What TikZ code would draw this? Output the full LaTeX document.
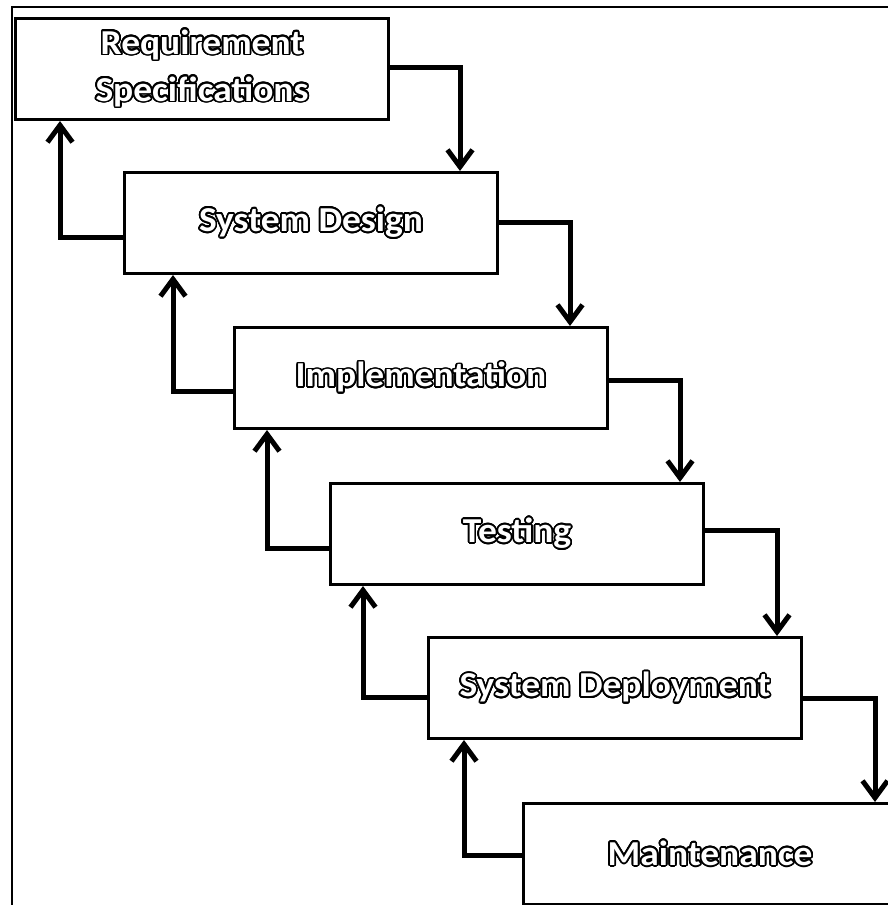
\documentclass[tikz,border=0pt]{standalone}
\usepackage{fontspec}
\setmainfont{Carlito}[FakeStretch=1.07]
\usepackage{contour}
\contourlength{1.7pt}
\contournumber{24}
\usetikzlibrary{arrows.meta,calc}
\newcommand\olt[1]{\textcolor{white}{\contour{black}{#1}}}
\begin{document}
\begin{tikzpicture}[x=1pt,y=-1pt,
  stage/.style={draw=black,line width=3pt,fill=white,minimum width=373pt,minimum height=101pt,
    anchor=north west,inner sep=0pt,font=\fontsize{35}{47}\selectfont\bfseries,align=center},
  flow/.style={line width=5pt,-{Straight Barb[length=17pt,width=25pt]}},
  frame/.style={line width=2pt}]
\clip (0,0) rectangle (888,905);
\fill[white] (0,0) rectangle (888,905);
\draw[frame] (12,7) rectangle (960,960);

\node[stage] (b1) at (14,17) {\olt{Requirement}\\\olt{Specifications}};
\node[stage] (b2) at (123,171) {\olt{System Design}};
\node[stage] (b3) at (233,326) {\olt{Implementation}};
\node[stage] (b4) at (329,482) {\olt{Testing}};
\node[stage] (b5) at (427,636) {\olt{System Deployment}};
\node[stage] (b6) at (522,802) {\olt{Maintenance}};

% forward connectors
\coordinate (f1) at (460,67);
\coordinate (f2) at (570,222);
\coordinate (f3) at (680,380);
\coordinate (f4) at (777,530);
\coordinate (f5) at (875,698);
\draw[flow] (b1.east |- f1) -- (f1) -- (f1 |- b2.north);
\draw[flow] (b2.east |- f2) -- (f2) -- (f2 |- b3.north);
\draw[flow] (b3.east |- f3) -- (f3) -- (f3 |- b4.north);
\draw[flow] (b4.east |- f4) -- (f4) -- (f4 |- b5.north);
\draw[flow] (b5.east |- f5) -- (f5) -- (f5 |- b6.north);

% return connectors
\coordinate (r1) at (60,237);
\coordinate (r2) at (173,391);
\coordinate (r3) at (267,548);
\coordinate (r4) at (363,697);
\coordinate (r5) at (464,855);
\draw[flow] (b2.west |- r1) -- (r1) -- (r1 |- b1.south);
\draw[flow] (b3.west |- r2) -- (r2) -- (r2 |- b2.south);
\draw[flow] (b4.west |- r3) -- (r3) -- (r3 |- b3.south);
\draw[flow] (b5.west |- r4) -- (r4) -- (r4 |- b4.south);
\draw[flow] (b6.west |- r5) -- (r5) -- (r5 |- b5.south);
\end{tikzpicture}
\end{document}
